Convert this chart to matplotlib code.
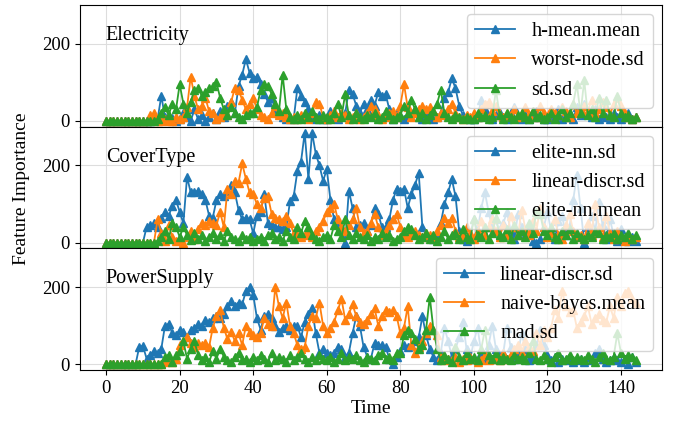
import numpy as np
import matplotlib
matplotlib.use("Agg")
import matplotlib.pyplot as plt

plt.rcParams['font.family'] = ['Liberation Serif', 'DejaVu Serif']
plt.rcParams['font.size'] = 13

datasets = ["Electricity", "CoverType", "PowerSupply"]
labels = [
    ["h-mean.mean", "worst-node.sd", "sd.sd"],
    ["elite-nn.sd", "linear-discr.sd", "elite-nn.mean"],
    ["linear-discr.sd", "naive-bayes.mean", "mad.sd"],
]

# Electricity
elec_hmean = [
    0, 0, 0, 0, 0, 0, 0, 0, 0, 0,
    0, 0, 0, 2, 5, 65, 10, 3, 8, 0,
    5, 20, 10, 0, 30, 5, 15, 0, 10, 20,
    5, 25, 10, 40, 50, 20, 90, 120, 160, 125,
    110, 115, 95, 70, 50, 60, 30, 20, 10, 5,
    10, 5, 85, 65, 50, 30, 10, 5, 15, 5,
    5, 25, 10, 5, 15, 20, 80, 70, 40, 20,
    45, 30, 55, 40, 75, 65, 70, 30, 5, 20,
    10, 5, 15, 20, 30, 10, 5, 25, 10, 5,
    10, 20, 60, 75, 110, 85, 40, 15, 10, 5,
    5, 10, 55, 30, 10, 5, 15, 20, 10, 5,
    20, 35, 10, 5, 15, 5, 10, 25, 10, 5,
    5, 15, 10, 30, 5, 10, 20, 5, 35, 15,
    45, 20, 10, 30, 5, 15, 10, 5, 20, 10,
    5, 10, 20, 5, 10,
]
elec_worst = [
    0, 0, 0, 0, 0, 0, 0, 0, 0, 0,
    0, 0, 15, 20, 0, 0, 5, 0, 0, 10,
    5, 10, 35, 115, 65, 30, 40, 60, 25, 20,
    5, 10, 20, 15, 50, 85, 80, 55, 30, 45,
    60, 30, 15, 10, 5, 20, 40, 15, 20, 10,
    5, 10, 5, 15, 10, 5, 20, 50, 45, 10,
    5, 15, 25, 10, 20, 15, 5, 10, 20, 5,
    10, 20, 40, 30, 15, 5, 10, 20, 25, 10,
    40, 95, 35, 10, 20, 30, 40, 30, 35, 25,
    10, 20, 15, 30, 45, 20, 10, 5, 15, 10,
    20, 10, 30, 45, 50, 25, 40, 15, 10, 20,
    15, 30, 10, 20, 35, 15, 25, 10, 40, 20,
    10, 30, 20, 15, 35, 25, 10, 45, 20, 30,
    40, 25, 55, 20, 30, 50, 35, 15, 45, 60,
    40, 20, 10, 5, 10,
]
elec_sd = [
    0, 0, 0, 0, 0, 0, 0, 0, 0, 0,
    0, 0, 0, 0, 5, 20, 35, 15, 45, 30,
    95, 45, 20, 50, 80, 85, 65, 75, 85, 90,
    100, 60, 30, 15, 35, 20, 10, 5, 15, 20,
    20, 35, 80, 95, 90, 70, 45, 25, 120, 30,
    10, 5, 15, 5, 20, 10, 25, 10, 5, 15,
    10, 5, 20, 45, 10, 70, 15, 5, 20, 10,
    5, 15, 10, 20, 5, 10, 25, 15, 5, 10,
    15, 40, 20, 55, 30, 10, 20, 5, 15, 25,
    45, 80, 20, 10, 5, 15, 10, 5, 10, 5,
    5, 20, 10, 15, 5, 10, 80, 15, 5, 20,
    10, 5, 15, 20, 10, 5, 25, 10, 15, 5,
    10, 20, 5, 15, 30, 10, 20, 45, 95, 20,
    105, 15, 30, 10, 60, 20, 55, 15, 10, 65,
    20, 10, 15, 5, 10,
]

# CoverType
cov_elite_sd = [
    0, 0, 0, 0, 0, 0, 0, 0, 0, 0,
    0, 40, 45, 50, 40, 65, 80, 70, 95, 110,
    80, 50, 170, 130, 130, 135, 125, 110, 70, 65,
    110, 125, 120, 135, 150, 130, 85, 60, 65, 60,
    24, 70, 80, 125, 50, 45, 40, 40, 35, 40,
    107, 120, 185, 210, 285, 165, 285, 230, 200, 160,
    190, 110, 60, 50, 40, 0, 135, 90, 40, 45,
    50, 30, 45, 90, 75, 40, 40, 60, 110, 140,
    135, 140, 90, 125, 150, 180, 40, 20, 15, 10,
    20, 50, 100, 130, 165, 120, 30, 10, 5, 20,
    60, 30, 90, 130, 80, 40, 60, 20, 50, 80,
    30, 10, 75, 40, 20, 45, 5, 0, 10, 40,
    80, 30, 10, 55, 70, 20, 40, 110, 175, 90,
    0, 40, 70, 30, 105, 45, 10, 60, 20, 5,
    35, 10, 5, 15, 5,
]
cov_lin = [
    0, 0, 0, 0, 0, 0, 0, 0, 0, 0,
    0, 0, 0, 0, 60, 25, 5, 45, 15, 5,
    10, 0, 15, 30, 10, 35, 50, 45, 55, 50,
    45, 80, 40, 140, 125, 160, 155, 205, 165, 130,
    125, 100, 90, 115, 120, 75, 65, 60, 55, 70,
    50, 25, 20, 15, 20, 25, 15, 30, 40, 55,
    80, 90, 100, 60, 40, 30, 45, 60, 90, 40,
    25, 30, 50, 75, 40, 20, 30, 45, 60, 75,
    40, 20, 15, 25, 30, 20, 15, 25, 20, 15,
    30, 45, 65, 50, 65, 30, 15, 20, 40, 25,
    10, 30, 55, 20, 40, 60, 30, 15, 45, 20,
    70, 40, 20, 85, 35, 20, 55, 30, 90, 40,
    15, 25, 60, 20, 10, 45, 75, 30, 15, 20,
    10, 50, 20, 100, 40, 15, 70, 25, 10, 30,
    15, 5, 20, 10, 15,
]
cov_elite_mean = [
    0, 0, 0, 0, 0, 0, 0, 0, 0, 0,
    0, 0, 0, 0, 5, 15, 30, 10, 50, 40,
    15, 40, 20, 8, 25, 10, 20, 5, 15, 25,
    10, 20, 5, 30, 15, 10, 5, 20, 10, 15,
    5, 10, 15, 5, 20, 25, 10, 15, 5, 30,
    15, 10, 40, 25, 55, 40, 20, 10, 5, 15,
    20, 10, 45, 30, 15, 60, 20, 10, 25, 15,
    10, 20, 5, 15, 10, 25, 15, 20, 5, 10,
    15, 30, 40, 35, 20, 10, 15, 25, 10, 20,
    5, 15, 30, 10, 20, 25, 10, 35, 15, 10,
    60, 20, 15, 40, 10, 25, 65, 20, 15, 35,
    10, 45, 20, 30, 15, 50, 25, 80, 75, 30,
    20, 40, 15, 10, 30, 20, 35, 10, 25, 15,
    10, 20, 15, 30, 25, 10, 20, 15, 25, 10,
    20, 15, 25, 10, 20,
]

# PowerSupply
ps_lin = [
    0, 0, 0, 0, 0, 0, 0, 0, 0, 45,
    48, 15, 25, 35, 30, 40, 100, 105, 80, 75,
    90, 85, 70, 90, 95, 105, 100, 115, 110, 120,
    125, 120, 130, 150, 165, 150, 160, 155, 190, 200,
    180, 120, 90, 125, 130, 120, 100, 85, 95, 100,
    90, 100, 100, 70, 110, 130, 145, 80, 30, 40,
    30, 25, 30, 45, 40, 20, 30, 80, 125, 100,
    45, 20, 15, 55, 50, 50, 45, 15, 0, 20,
    35, 50, 45, 50, 60, 70, 125, 75, 40, 20,
    10, 30, 95, 60, 20, 40, 70, 110, 40, 15,
    60, 95, 30, 15, 50, 100, 40, 20, 30, 95,
    45, 15, 30, 80, 40, 10, 20, 50, 90, 50,
    25, 10, 20, 5, 15, 10, 20, 5, 10, 15,
    5, 20, 10, 30, 40, 15, 5, 10, 20, 10,
    5, 15, 0, 20, 5,
]
ps_nb = [
    0, 0, 0, 0, 0, 0, 0, 0, 0, 0,
    0, 0, 0, 0, 0, 0, 5, 10, 5, 15,
    50, 60, 70, 55, 45, 55, 50, 55, 45, 95,
    125, 140, 95, 65, 85, 60, 80, 50, 100, 85,
    75, 70, 80, 120, 105, 100, 200, 150, 120, 160,
    100, 80, 50, 40, 45, 100, 125, 120, 160, 100,
    80, 95, 110, 140, 170, 115, 130, 155, 125, 110,
    105, 115, 130, 145, 100, 125, 140, 135, 140, 125,
    80, 95, 150, 50, 30, 45, 60, 80, 100, 90,
    75, 20, 10, 15, 10, 20, 5, 15, 10, 20,
    15, 5, 10, 25, 10, 15, 20, 10, 30, 15,
    25, 40, 50, 30, 60, 45, 35, 80, 50, 90,
    70, 95, 140, 120, 190, 150, 135, 140, 95, 110,
    125, 150, 105, 120, 130, 115, 110, 150, 120, 175,
    150, 185, 190, 170, 160,
]
ps_mad = [
    0, 0, 0, 0, 0, 0, 0, 0, 0, 0,
    0, 0, 0, 0, 0, 0, 20, 25, 5, 25,
    35, 60, 15, 40, 60, 25, 10, 20, 5, 35,
    15, 40, 20, 10, 5, 20, 30, 10, 15, 5,
    20, 10, 25, 15, 5, 30, 10, 20, 15, 5,
    25, 10, 20, 30, 15, 5, 20, 10, 25, 15,
    10, 20, 5, 15, 30, 10, 20, 15, 25, 10,
    5, 20, 15, 10, 25, 30, 15, 20, 10, 30,
    30, 75, 90, 80, 65, 40, 50, 90, 175, 90,
    40, 10, 25, 15, 5, 45, 20, 10, 30, 15,
    20, 10, 40, 90, 25, 15, 30, 10, 20, 15,
    10, 25, 15, 20, 10, 30, 60, 15, 10, 25,
    15, 5, 20, 30, 10, 15, 25, 10, 20, 15,
    10, 25, 15, 5, 20, 30, 15, 10, 20, 80,
    30, 15, 25, 20, 10,
]

series = [
    [elec_hmean, elec_worst, elec_sd],
    [cov_elite_sd, cov_lin, cov_elite_mean],
    [ps_lin, ps_nb, ps_mad],
]
colors = ["tab:blue", "tab:orange", "tab:green"]

fig, axes = plt.subplots(3, 1, figsize=(6.75, 4.24), dpi=100, sharex=True, sharey=True)
fig.subplots_adjust(left=0.118, right=0.981, top=0.988, bottom=0.127, hspace=0)

for ax, name, lab, ser in zip(axes, datasets, labels, series):
    for vals, l, c in zip(ser, lab, colors):
        t = np.arange(len(vals))
        ax.plot(t, vals, marker="^", markersize=5.5, linewidth=1.3, color=c, label=l)
    ax.grid(True, color="#dddddd", linewidth=0.8)
    ax.set_axisbelow(True)
    ax.tick_params(labelsize=13.5)
    ax.text(0.045, 0.75, name, transform=ax.transAxes, va="center", fontsize=14.5)
    ax.legend(loc="upper right", fontsize=14.5, borderaxespad=0.45)

axes[0].set_ylim(-15, 300)
axes[0].set_yticks([0, 200])
axes[-1].set_xlabel("Time", fontsize=14, labelpad=2)
fig.text(0.032, 0.555, "Feature Importance", rotation=90, va="center", ha="center", fontsize=14)

fig.savefig("out.png", dpi=100)
